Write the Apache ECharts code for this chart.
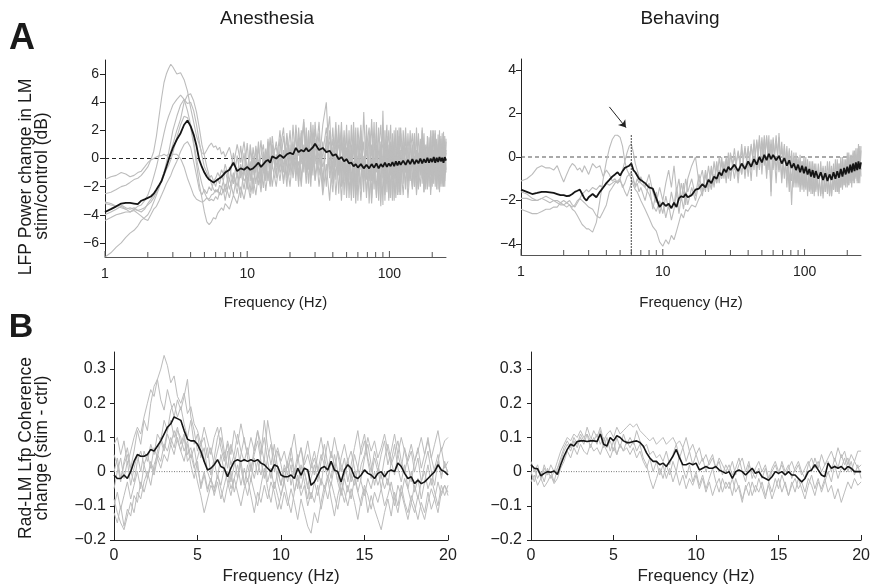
<!DOCTYPE html>
<html>
<head>
<meta charset="utf-8">
<script src="https://cdn.jsdelivr.net/npm/echarts@6/dist/echarts.min.js"></script>
<style>
  body { margin: 0; padding: 0; background: #fff; }
  #chart { width: 873px; height: 586px; }
</style>
</head>
<body>
<div id="chart"></div>
<script>
// ---- frequency grids ----
const freqLog = [
  1, 1.1, 1.2, 1.3, 1.4, 1.5, 1.6, 1.7, 1.8, 1.9, 2, 2.1, 2.2, 2.3, 2.4, 2.5, 2.6, 2.7, 2.8, 2.9, 3,
  3.2, 3.4, 3.6, 3.8, 4, 4.2, 4.4, 4.6, 4.8, 5, 5.2, 5.4, 5.6, 5.8, 6, 6.2, 6.4, 6.6, 6.8,
  7, 7.5, 8, 8.5, 9, 9.5, 10, 10.5, 11, 11.5, 12, 12.5, 13, 13.5, 14, 14.5, 15,
  16, 17, 18, 19, 20, 21, 22, 23, 24, 25, 26, 27, 28, 29, 30,
  32, 34, 36, 38, 40, 42, 44, 46, 48, 50, 52, 54, 56, 58, 60,
  63, 66, 69, 72, 75, 78, 81, 84, 87, 90, 93, 96, 99, 102, 105, 108, 111, 114, 117, 120,
  125, 130, 135, 140, 145, 150, 155, 160, 165, 170, 175, 180, 185, 190, 195, 200, 205, 210, 215, 220, 225, 230, 235, 240, 245, 250
];
const freqLin = [
  0, 0.2, 0.4, 0.6, 0.8, 1, 1.2, 1.4, 1.6, 1.8,
  2, 2.2, 2.4, 2.6, 2.8, 3, 3.2, 3.4, 3.6, 3.8,
  4, 4.2, 4.4, 4.6, 4.8, 5, 5.2, 5.4, 5.6, 5.8,
  6, 6.2, 6.4, 6.6, 6.8, 7, 7.2, 7.4, 7.6, 7.8,
  8, 8.2, 8.4, 8.6, 8.8, 9, 9.2, 9.4, 9.6, 9.8,
  10, 10.2, 10.4, 10.6, 10.8, 11, 11.2, 11.4, 11.6, 11.8,
  12, 12.2, 12.4, 12.6, 12.8, 13, 13.2, 13.4, 13.6, 13.8,
  14, 14.2, 14.4, 14.6, 14.8, 15, 15.2, 15.4, 15.6, 15.8,
  16, 16.2, 16.4, 16.6, 16.8, 17, 17.2, 17.4, 17.6, 17.8,
  18, 18.2, 18.4, 18.6, 18.8, 19, 19.2, 19.4, 19.6, 19.8,
  20
];

// ---- tick values ----
const logTicks = [1, 2, 3, 4, 5, 6, 7, 8, 9, 10, 20, 30, 40, 50, 60, 70, 80, 90, 100, 200];
const anesPowerTicks = [-6, -4, -2, 0, 2, 4, 6];
const behPowerTicks = [-4, -2, 0, 2, 4];
const cohTicks = [-0.2, -0.1, 0, 0.1, 0.2, 0.3];

// ---- A, anesthesia: power change (dB) ----
const anesPowMean = [
  -3.8, -3.6, -3.4, -3.2, -3.15, -3.15, -3.2, -3.25, -3.0, -2.9, -2.8, -2.7, -2.5, -2.2, -1.9, -1.6, -1.1, -0.6, -0.1, 0.35, 0.75,
  1.35, 1.8, 2.4, 2.7, 2.3, 1.7, 0.9, -0.1, -0.6, -1.0, -1.3, -1.5, -1.6, -1.7, -1.6, -1.5, -1.45, -1.3, -1.2,
  -1.0, -0.8, -0.3, -0.9, -0.7, -0.8, -0.6, -0.8, -0.7, -0.5, -0.3, -0.6, -0.4, -0.2, -0.1, -0.3, 0.15,
  0.0, 0.25, 0.05, 0.3, 0.4, 0.3, 0.75, 0.45, 0.6, 0.5, 0.75, 0.5, 0.65, 0.8, 1.05,
  0.6, 0.75, 0.45, 0.55, 0.2, 0.3, -0.05, 0.1, -0.2, -0.05, -0.35, -0.3, -0.55, -0.4, -0.65,
  -0.4, -0.7, -0.45, -0.7, -0.4, -0.65, -0.35, -0.7, -0.4, -0.6, -0.3, -0.6, -0.35, -0.55, -0.25, -0.55, -0.2, -0.5, -0.2, -0.45,
  -0.15, -0.45, -0.1, -0.4, -0.05, -0.4, -0.1, -0.35, 0.0, -0.35, -0.05, -0.3, 0.05, -0.3, 0.0, -0.25, 0.1, -0.3, 0.05, -0.25, 0.1, -0.2, 0.05, -0.3, 0.1, -0.15
];
const anesPow1 = [
  -2.5, -2.4, -2.2, -2.0, -1.9, -1.7, -1.5, -1.4, -1.2, -0.9, -0.6, -0.1, 0.5, 1.6, 3.0, 4.3, 5.4, 6.0, 6.4, 6.7, 6.5,
  6.0, 6.1, 5.6, 4.8, 3.6, 2.6, 1.6, 1.0, 0.4, 0.3, 0.6, 0.9, 1.1, 0.8, 0.9, 0.6, 0.8, 0.3, 0.5,
  0.1, 0.8, -0.5, 1.0, -0.3, 1.2, -0.8, 0.6, -1.2, 0.9, -0.5, 1.3, -0.9, 0.7, -0.2, 1.5, -0.6,
  1.2, -0.8, 1.6, -0.5, 2.0, -1.0, 2.4, 0.2, 1.8, -0.6, 2.2, -0.3, 2.6, 0.0, 2.1,
  -0.5, 2.4, 4.0, -0.8, 2.2, -1.5, 1.8, -2.0, 1.5, -2.3, 2.0, -1.8, 1.2, -2.6, 1.6,
  -2.2, 3.3, -1.5, 1.8, -2.8, 1.4, -1.0, 2.2, -2.5, 3.4, -1.8, 1.6, -2.2, 1.2, -1.5, 2.0, -2.0, 1.4, -1.2, 1.8,
  -1.8, 1.6, -1.0, 2.0, -2.0, 1.2, -1.4, 1.8, -0.8, 2.2, -1.6, 1.0, -2.0, 1.5, -1.2, 2.0, -1.5, 1.3, -1.8, 1.7, -0.9, 1.4, -1.6, 1.9, -1.2, 1.2
];
const anesPow2 = [
  -3.1, -3.2, -3.4, -3.5, -3.6, -3.5, -3.6, -3.7, -3.6, -3.5, -3.3, -3.1, -2.8, -2.4, -2.0, -1.5, -1.0, -0.5, 0.0, 0.5, 1.0,
  2.0, 2.8, 4.0, 4.5, 4.6, 4.1, 3.3, 2.2, 1.0, 0.2, -0.6, -1.2, -1.8, -2.2, -2.4, -2.2, -2.6, -2.0, -2.4,
  -1.8, -2.8, -1.2, -2.5, -0.8, -2.2, -0.5, -2.4, 0.2, -1.8, -0.2, -2.0, 0.5, -1.5, 0.8, -1.8, 1.0,
  -1.4, 1.4, -1.8, 0.8, -1.2, 2.4, -0.8, 1.5, -1.6, 1.0, -1.2, 2.0, -0.6, 1.6, -1.5,
  1.8, -1.5, 1.0, 3.0, -1.8, 2.0, -2.5, 1.2, -1.0, 2.4, -2.8, 1.0, -2.0, 2.2, -3.0,
  1.4, -2.4, 2.4, -3.2, 1.0, -1.8, 2.6, -2.0, 1.2, -3.3, 2.0, -2.4, 1.0, -2.8, 1.8, -1.4, 2.2, -2.6, 1.6, -1.8,
  1.2, -2.2, 1.8, -1.2, 1.0, -2.0, 2.2, -1.0, 1.4, -1.8, 0.8, -2.2, 1.6, -1.0, 2.0, -1.6, 0.6, -2.0, 1.4, -1.2, 2.0, -1.8, 1.0, -1.4, 1.6, -1.0
];
const anesPow3 = [
  -4.4, -4.2, -4.0, -3.9, -3.8, -3.8, -3.6, -3.4, -3.3, -3.0, -2.6, -2.0, -1.3, -0.6, 0.2, 1.0, 1.8, 2.5, 3.0, 3.4, 3.8,
  4.2, 4.5, 4.2, 3.4, 2.4, 1.2, 0.0, -1.0, -1.8, -2.4, -2.8, -3.0, -2.9, -3.0, -2.7, -2.9, -2.4, -2.6, -2.2,
  -3.0, -1.4, -2.6, -1.0, -2.8, -0.6, -2.2, -0.4, -2.5, 0.0, -1.9, -0.8, -2.1, 0.4, -1.6, -0.3, -2.0,
  0.3, -1.6, 0.6, -2.0, 1.0, -1.4, 0.4, -2.0, 2.0, -1.0, 1.2, -1.8, 0.8, -1.2, 2.6,
  -1.2, 1.2, -2.0, 2.0, -0.8, 2.6, -1.2, 2.0, -2.6, 0.8, -1.5, 2.4, -2.8, 0.6, -1.8,
  2.0, -1.2, 0.8, 2.2, -1.6, 2.6, -2.6, 0.6, 2.4, -1.4, 0.4, 2.4, -3.0, 0.8, -2.6, 0.4, -1.2, 2.0, -2.4, 0.6,
  -1.0, 0.8, -2.0, 0.4, 1.8, -1.4, 0.6, -2.2, 1.2, -0.6, 1.8, -1.6, 0.4, -2.0, 0.8, -0.8, 2.0, -1.2, 0.6, -2.2, 0.4, -0.6, 1.8, -2.0, 0.6, -0.8
];
const anesPow4 = [
  -1.5, -1.3, -1.2, -1.0, -1.1, -1.3, -1.2, -1.0, -0.9, -0.6, -0.3, -0.1, 0.0, 0.1, 0.2, 0.2, 0.3, 0.2, 0.3, 0.2, 0.3,
  0.3, 0.0, -0.6, -1.4, -2.0, -2.6, -2.9, -3.0, -3.1, -3.0, -2.8, -2.9, -2.6, -2.5, -2.2, -2.4, -1.9, -2.1, -1.6,
  -2.4, -0.6, -1.8, 0.2, -1.4, 0.4, -1.8, 1.0, -0.8, 0.6, -1.4, 0.2, 1.0, -1.0, 1.2, -0.8, 0.8,
  -0.6, 2.0, -1.0, 1.8, -0.2, 1.2, -1.6, 2.2, -0.4, 2.6, -0.8, 1.0, -1.4, 2.4, -0.4,
  2.6, -2.2, 1.6, -1.4, 1.4, -0.6, 2.4, -1.4, 2.0, -1.0, 1.0, -2.6, 2.0, -0.6, 2.2,
  -0.8, 1.2, -2.8, 0.8, 2.2, -2.2, 1.0, -3.0, 0.6, 1.0, -2.6, 0.2, 2.0, -1.2, 0.6, -3.0, 0.8, -0.8, 2.2, -2.6,
  2.0, -0.6, 0.8, -1.6, 0.2, 1.8, -2.2, 0.4, -1.0, 1.2, -2.4, 0.6, 1.0, -0.6, 1.6, -2.0, 0.2, 1.8, -0.8, 1.0, -1.6, 1.6, -0.4, 0.8, -2.0, 1.4
];
const anesPow5 = [
  -3.2, -3.3, -3.4, -3.3, -3.5, -3.6, -3.5, -3.7, -3.8, -3.6, -3.2, -2.9, -2.6, -2.3, -2.0, -1.6, -1.2, -0.8, -0.5, -0.1, 0.4,
  1.5, 2.4, 3.0, 2.9, 2.2, 1.0, -0.4, -1.8, -2.8, -3.8, -4.5, -4.7, -4.5, -4.2, -4.3, -3.9, -4.0, -3.5, -3.7,
  -3.2, -3.6, -2.6, -3.2, -2.0, -2.9, -1.6, -2.8, -1.4, -2.6, -1.0, -2.4, -0.6, -2.3, -0.9, -2.0, -0.4,
  -2.0, 0.2, -1.6, -0.2, -2.0, 0.4, -1.2, -0.2, -2.0, 0.6, -1.8, 0.2, -2.0, 1.0, -1.6,
  0.6, -2.6, -0.4, -3.0, 0.8, -2.6, 0.2, -3.0, 0.4, -2.8, 0.6, -3.0, -0.2, -3.2, 0.2,
  -3.0, 0.2, -2.4, -0.4, -3.2, 0.0, -2.8, -0.4, -3.4, 0.2, -2.2, -1.0, -2.8, 0.4, -3.0, -0.6, -2.8, 0.2, -2.6, -0.4,
  -2.6, 0.0, -2.8, -0.6, -2.2, 0.2, -2.6, -0.8, -2.0, 0.4, -2.4, -0.4, -2.2, 0.0, -2.6, -0.6, -1.8, 0.6, -2.2, -0.2, -2.4, 0.2, -2.0, -0.6, -1.6, 0.0
];
const anesPow6 = [
  -7.0, -6.7, -6.3, -6.0, -5.6, -5.3, -5.1, -4.8, -4.4, -4.2, -4.0, -3.6, -3.1, -2.6, -2.1, -1.5, -1.0, -0.3, 0.4, 1.2, 2.0,
  3.0, 3.8, 4.2, 3.9, 4.0, 3.4, 2.4, 1.2, 0.2, -0.6, -1.0, -1.4, -1.2, -1.6, -1.4, -1.0, -1.3, -0.8, -1.1,
  -0.4, -1.6, 0.4, -1.4, 0.9, -1.2, 1.1, -1.6, 0.8, -1.0, 1.2, -1.6, 0.4, -1.2, 1.4, -0.6, 1.6,
  -1.0, 0.6, 2.2, -1.4, 0.6, -0.4, 1.8, -1.6, 1.0, 2.8, -0.2, 1.6, -1.2, 0.4, 1.4,
  -2.0, 0.4, 2.2, -0.4, -2.4, 1.2, -0.6, 2.6, -1.6, 1.8, -0.8, -0.2, 2.6, -1.8, -0.4,
  2.4, -1.6, 1.6, -1.2, 2.8, -0.8, 1.8, -1.2, -0.2, 2.2, -3.0, 1.2, -0.4, 2.4, -1.0, 1.2, -0.6, -2.2, 0.8, 2.2,
  -0.6, 2.2, -1.6, 1.0, -0.4, -2.0, 1.6, 0.2, -1.2, 2.0, 0.0, -1.8, 1.2, -0.2, -2.2, 1.0, -0.6, 2.0, -1.4, 0.4, 1.2, -2.0, 0.2, 1.6, -0.8, 0.6
];
const anesPow7 = [
  -4.0, -3.8, -3.6, -3.4, -3.6, -3.8, -3.7, -3.9, -4.1, -4.3, -4.4, -4.0, -3.6, -3.4, -3.0, -2.6, -2.2, -1.8, -1.5, -1.2, -0.8,
  -0.2, 0.5, 1.0, 1.2, 0.8, -0.2, -1.2, -2.2, -2.6, -2.2, -2.5, -2.0, -2.3, -1.6, -2.0, -1.4, -1.8, -1.2, -1.6,
  -0.8, -2.2, -1.0, -2.0, -0.4, -1.6, -1.2, -0.2, -1.8, -0.6, 0.8, -1.2, 0.2, -1.6, 0.2, -1.4, 0.4,
  0.8, -1.0, -0.4, 1.4, -0.8, 1.0, 0.2, -1.0, 0.6, -0.2, 1.6, -0.8, 1.8, -0.6, 0.6,
  1.0, -0.6, 0.6, 1.2, -1.4, 0.0, 1.0, -0.6, 0.8, -1.4, -0.2, 0.6, -1.4, 1.0, -1.2,
  0.4, -1.0, 0.6, -1.6, 0.0, -0.8, 0.4, -1.6, 1.0, -0.4, 0.8, -1.8, 0.6, -0.6, 1.0, -1.0, 0.2, -1.4, 0.2, -0.8,
  0.6, -1.0, 0.2, -0.6, 0.8, -1.2, 0.4, -0.4, 1.0, -1.4, 0.2, 0.6, -1.0, 0.8, -0.2, -1.2, 0.6, -0.4, 1.0, -0.8, 0.0, 0.8, -1.2, 0.2, -0.2, 0.4
];

// ---- A, behaving: power change (dB) ----
const behPowMean = [
  -1.5, -1.6, -1.7, -1.65, -1.6, -1.6, -1.62, -1.65, -1.7, -1.75, -1.75, -1.8, -1.78, -1.7, -1.6, -1.55, -1.5, -1.7, -1.9, -2.0, -1.85,
  -1.7, -1.85, -1.6, -1.4, -1.2, -1.05, -0.9, -0.8, -0.7, -0.85, -0.65, -0.5, -0.45, -0.4, -0.3, -0.6, -0.7, -0.65, -1.0,
  -1.0, -1.2, -1.4, -1.45, -1.9, -2.3, -2.1, -2.25, -2.15, -2.35, -2.1, -2.3, -1.9, -1.8, -1.85, -1.7, -1.85,
  -1.75, -1.5, -1.45, -1.25, -1.4, -1.05, -1.2, -0.9, -1.0, -0.7, -0.85, -0.55, -0.7, -0.45, -0.6,
  -0.35, -0.65, -0.3, -0.55, -0.2, -0.45, -0.1, -0.35, 0.0, -0.25, 0.1, -0.15, 0.15, -0.1, 0.1,
  -0.15, 0.05, -0.3, -0.05, -0.4, -0.15, -0.5, -0.3, -0.6, -0.35, -0.7, -0.4, -0.75, -0.45, -0.8, -0.55, -0.9, -0.6, -0.95, -0.65,
  -1.0, -0.7, -1.05, -0.75, -1.1, -0.8, -1.05, -0.7, -1.0, -0.65, -0.95, -0.55, -0.9, -0.5, -0.8, -0.45, -0.75, -0.35, -0.7, -0.3, -0.65, -0.25, -0.6, -0.2, -0.55, -0.25
];
const behPow1 = [
  -1.1, -1.0, -0.8, -0.5, -0.4, -0.5, -0.5, -0.6, -0.4, -0.8, -1.15, -0.8, -0.5, -0.3, -0.4, -0.6, -0.5, -0.7, -0.4, -0.6, -0.8,
  -0.3, -0.5, -0.4, -0.9, -0.6, -0.8, -1.1, -1.0, -1.2, -1.0, -1.4, -1.2, -0.9, -0.8, -0.7, -1.0, -1.4, -1.2, -1.6,
  -1.4, -2.0, -1.2, -2.4, -1.6, -2.6, -2.0, -2.8, -2.2, -2.9, -2.4, -1.6, -2.6, -1.8, -2.4, -1.6, -2.2,
  -1.4, -2.0, -1.2, -1.8, -0.8, -1.6, -0.6, -1.4, -0.4, -1.2, -0.2, -1.0, 0.0, -0.9, 0.2,
  -1.0, 0.3, -0.8, 0.5, -0.9, 0.6, -0.6, 0.8, -0.6, 0.9, -0.4, 1.0, -0.6, 0.8, -0.5,
  1.0, -0.7, 0.7, -1.0, 0.5, -1.2, 0.3, -1.4, 0.2, -1.2, 0.1, -1.5, 0.0, -1.4, -0.1, -1.6, -0.2, -1.7, -0.3, -1.6,
  -0.3, -1.8, -0.4, -1.6, -0.2, -1.7, -0.5, -1.5, -0.1, -1.6, -0.3, -1.4, 0.0, -1.3, -0.1, -1.4, 0.2, -1.2, 0.1, -1.1, 0.3, -1.0, 0.4, -1.2, 0.5, -0.9
];
const behPow2 = [
  -1.6, -1.7, -1.9, -2.0, -1.9, -2.0, -2.1, -2.0, -2.0, -2.1, -2.2, -2.1, -2.0, -2.2, -2.3, -2.1, -1.9, -1.7, -1.6, -1.5, -1.6,
  -1.4, -1.5, -1.3, -1.4, -1.2, -1.3, -1.2, -1.1, -1.2, -1.1, -1.3, -1.6, -1.8, -1.5, -1.2, -1.1, -1.3, -1.0, -1.2,
  -0.9, -1.4, -0.8, -1.6, -2.1, -1.4, -2.0, -1.2, -0.6, -1.4, -0.4, -1.6, -1.0, -2.0, -1.2, -2.2, -1.0,
  -0.4, 0.0, -1.2, -0.6, -1.6, -0.4, -1.4, -0.2, -1.2, 0.0, -1.0, -0.2, -1.2, 0.2, -1.1,
  0.4, -1.2, 0.6, -1.0, 0.5, -1.1, 0.8, -0.9, 1.0, -0.8, 0.8, -1.0, 1.0, -1.6, 0.9,
  -1.2, 1.1, -1.0, 0.6, -1.4, 0.4, -2.2, 0.2, -1.4, 0.0, -1.6, -0.2, -1.6, 0.0, -1.8, -0.2, -1.7, -0.2, -1.8, -0.3,
  -1.8, -0.2, -1.9, -0.4, -1.7, -0.2, -1.8, -0.3, -1.6, -0.1, -1.7, 0.0, -1.5, -0.1, -1.4, 0.2, -1.3, 0.1, -1.4, 0.3, -1.2, 0.4, -1.1, 0.6, -1.2, 0.5
];
const behPow3 = [
  -1.9, -1.9, -2.0, -2.0, -1.9, -1.8, -1.9, -2.0, -2.1, -2.2, -2.2, -2.3, -2.2, -2.3, -2.2, -2.0, -1.9, -2.0, -2.1, -2.2, -2.3,
  -2.4, -2.7, -2.8, -2.5, -2.2, -1.6, -1.4, -1.2, -1.1, -1.0, -0.6, -0.2, 0.2, 0.5, 0.6, 0.2, -0.3, -0.6, -0.9,
  -1.2, -1.4, -1.7, -2.2, -2.5, -2.0, -2.6, -1.8, -2.4, -1.6, -2.2, -1.4, -2.0, -1.2, -1.8, -1.0, -1.6,
  -1.0, -1.8, -0.8, -1.6, -0.6, -1.4, -0.4, -1.2, -0.2, -1.0, 0.0, -0.8, -0.1, -1.0, 0.1,
  -0.6, 0.2, -0.8, 0.4, -0.5, 0.5, -0.4, 0.7, -0.5, 0.6, -0.3, 0.9, -0.4, 0.6, -0.6,
  0.7, -0.6, 0.4, -0.8, 0.2, -1.6, 0.1, -1.2, -0.1, -1.4, -0.2, -1.3, -0.3, -1.5, -0.4, -1.4, -0.5, -1.6, -0.4, -1.5,
  -0.6, -1.7, -0.5, -1.6, -0.7, -1.8, -0.4, -1.5, -0.6, -1.6, -0.3, -1.4, -0.5, -1.3, -0.2, -1.2, -0.4, -1.1, 0.0, -1.2, -0.2, -0.9, 0.1, -1.0, -0.1, -0.6
];
const behPow4 = [
  -2.4, -2.5, -2.6, -2.6, -2.5, -2.4, -2.4, -2.3, -2.3, -2.1, -2.0, -2.1, -2.2, -2.4, -2.5, -2.7, -2.9, -3.1, -3.2, -3.3, -3.3,
  -3.45, -3.0, -2.0, -1.0, -0.2, 0.4, 0.8, 1.0, 1.0, 0.9, 0.5, -0.2, -0.6, -0.8, -1.0, -1.3, -1.5, -1.6, -1.8,
  -2.0, -2.4, -2.8, -3.2, -3.4, -3.9, -4.1, -3.8, -4.0, -3.6, -3.8, -3.4, -3.0, -2.6, -2.8, -2.4, -2.5,
  -2.2, -2.3, -1.9, -1.6, -1.4, -1.0, -1.5, -0.8, -1.2, -0.6, -1.0, -0.4, -0.8, -0.2, -0.9,
  0.0, -0.9, 0.3, -0.7, 0.4, -0.6, 0.6, -0.5, 0.8, -0.4, 1.0, -0.8, 0.7, -1.8, 0.8,
  -0.6, 0.9, -1.2, 0.5, -0.9, 0.3, -1.1, 0.0, -1.2, -0.1, -1.3, -0.2, -1.4, -0.3, -1.6, -0.4, -1.5, -0.5, -1.6, -0.6,
  -1.5, -0.5, -1.7, -0.6, -1.6, -0.4, -1.8, -0.5, -1.5, -0.3, -1.6, -0.2, -1.4, -0.4, -1.2, -0.1, -1.3, 0.0, -1.1, 0.2, -1.0, 0.1, -1.2, 0.4, -0.8, 0.3
];

// ---- B, anesthesia: coherence change ----
const anesCohMean = [
  -0.01, -0.02, -0.02, -0.01, -0.02, 0.0, 0.03, 0.05, 0.045, 0.045,
  0.05, 0.065, 0.06, 0.075, 0.09, 0.11, 0.13, 0.14, 0.16, 0.155,
  0.15, 0.12, 0.095, 0.09, 0.09, 0.08, 0.06, 0.03, 0.005, 0.01,
  0.02, 0.035, 0.015, 0.01, -0.015, 0.01, 0.03, 0.035, 0.03, 0.035,
  0.03, 0.035, 0.03, 0.035, 0.025, 0.02, 0.01, 0.0, 0.02, 0.015,
  -0.01, -0.015, -0.015, -0.01, -0.02, 0.01, -0.01, 0.01, 0.005, -0.04,
  -0.03, -0.01, 0.01, 0.015, 0.005, 0.03, 0.005, 0.0, -0.03, 0.005,
  0.02, 0.01, -0.015, -0.02, -0.01, 0.005, -0.005, -0.01, -0.02, -0.005,
  0.0, -0.015, 0.0, 0.005, 0.0, 0.025, 0.015, -0.005, -0.02, -0.015,
  -0.035, -0.025, -0.035, -0.03, -0.02, -0.01, 0.0, 0.02, 0.005, 0.0,
  -0.01
];
const anesCoh1 = [
  0.08, 0.1, 0.05, 0.09, 0.02, 0.06, 0.1, 0.13, 0.11, 0.16,
  0.2, 0.24, 0.22, 0.27, 0.3, 0.34, 0.31, 0.26, 0.28, 0.22,
  0.2, 0.23, 0.17, 0.19, 0.14, 0.12, 0.08, 0.1, 0.04, 0.07,
  0.02, 0.06, 0.1, 0.04, 0.08, 0.02, 0.05, 0.11, 0.06, 0.03,
  0.07, 0.01, 0.05, 0.09, 0.03, -0.02, 0.04, 0.08, 0.0, 0.06,
  0.02, -0.03, 0.03, 0.07, 0.0, 0.05, -0.02, 0.04, 0.09, 0.03,
  -0.01, 0.05, 0.1, 0.04, 0.0, 0.06, 0.02, -0.03, 0.04, 0.08,
  0.03, -0.02, 0.05, 0.01, 0.07, 0.11, 0.04, 0.0, 0.06, 0.02,
  -0.02, 0.04, 0.08, 0.03, -0.01, 0.05, 0.1, 0.06, 0.02, -0.03,
  0.03, 0.07, 0.01, 0.05, 0.1, 0.04, 0.08, 0.12, 0.06, 0.09,
  0.1
];
const anesCoh2 = [
  0.05, 0.02, -0.03, 0.03, 0.07, 0.01, 0.06, 0.12, 0.08, 0.15,
  0.12, 0.2, 0.25, 0.27, 0.21, 0.18, 0.24, 0.2, 0.16, 0.21,
  0.18, 0.22, 0.27, 0.16, 0.12, 0.06, 0.09, 0.03, 0.07, -0.01,
  0.04, 0.1, 0.13, 0.06, 0.01, 0.08, 0.04, -0.02, 0.05, 0.1,
  0.04, 0.0, 0.07, 0.12, 0.05, 0.15, 0.07, 0.02, 0.08, 0.01,
  -0.04, 0.02, -0.01, 0.06, 0.11, 0.03, 0.07, 0.0, -0.05, 0.02,
  0.06, 0.01, -0.04, 0.03, 0.09, 0.04, 0.1, 0.05, 0.0, 0.04,
  -0.03, 0.02, 0.07, 0.12, 0.05, 0.09, 0.03, -0.02, 0.04, 0.0,
  0.05, 0.09, 0.02, 0.06, 0.11, 0.05, 0.01, 0.07, 0.03, 0.06,
  0.0, 0.04, -0.03, 0.02, 0.06, 0.0, -0.04, 0.03, 0.07, 0.01,
  0.03
];
const anesCoh3 = [
  -0.05, 0.0, 0.04, -0.02, 0.03, -0.04, 0.01, 0.05, 0.0, 0.06,
  0.03, 0.08, 0.05, 0.11, 0.09, 0.15, 0.12, 0.18, 0.2, 0.16,
  0.19, 0.14, 0.1, 0.15, 0.08, 0.11, 0.04, 0.07, 0.0, -0.03,
  0.03, -0.02, 0.05, 0.0, 0.06, -0.03, 0.02, 0.07, 0.01, -0.04,
  0.02, -0.03, 0.04, -0.01, 0.05, 0.1, 0.03, -0.02, 0.04, -0.03,
  -0.07, -0.02, 0.03, -0.04, 0.01, -0.05, 0.02, -0.03, -0.08, -0.02,
  0.02, -0.03, 0.03, 0.08, 0.02, -0.02, 0.05, 0.0, -0.06, -0.01,
  0.04, -0.03, 0.0, -0.06, -0.02, 0.04, 0.08, 0.02, -0.04, 0.01,
  -0.05, 0.0, -0.04, 0.03, 0.08, 0.01, -0.03, 0.02, -0.05, 0.0,
  -0.06, -0.02, -0.08, -0.03, 0.02, -0.04, 0.01, 0.05, -0.02, 0.03,
  -0.01
];
const anesCoh4 = [
  -0.12, -0.15, -0.1, -0.16, -0.11, -0.13, -0.07, -0.09, -0.03, -0.06,
  -0.02, 0.03, 0.0, 0.06, 0.1, 0.07, 0.12, 0.15, 0.1, 0.13,
  0.08, 0.11, 0.05, 0.07, 0.02, -0.03, -0.07, -0.12, -0.08, -0.04,
  -0.06, -0.01, -0.05, -0.09, -0.04, 0.0, -0.06, -0.02, 0.03, -0.03,
  -0.07, -0.02, -0.06, -0.1, -0.04, 0.01, -0.05, -0.09, -0.03, -0.07,
  -0.11, -0.06, -0.1, -0.05, -0.09, -0.14, -0.08, -0.12, -0.16, -0.18,
  -0.12, -0.15, -0.09, -0.04, -0.08, -0.03, -0.07, -0.11, -0.05, -0.09,
  -0.04, -0.08, -0.02, -0.06, -0.1, -0.05, -0.12, -0.07, -0.11, -0.14,
  -0.17, -0.12, -0.08, -0.13, -0.06, -0.1, -0.04, -0.09, -0.12, -0.07,
  -0.1, -0.14, -0.09, -0.12, -0.06, -0.11, -0.08, -0.03, -0.07, -0.04,
  -0.06
];
const anesCoh5 = [
  -0.08, -0.12, -0.15, -0.17, -0.13, -0.09, -0.12, -0.06, -0.08, -0.03,
  0.0, -0.04, 0.02, 0.05, 0.03, 0.08, 0.06, 0.1, 0.07, 0.12,
  0.1, 0.06, 0.09, 0.04, 0.07, 0.01, -0.04, 0.0, -0.05, -0.02,
  -0.07, -0.03, -0.08, -0.04, 0.0, -0.05, -0.02, -0.06, -0.1, -0.05,
  -0.02, -0.07, -0.12, -0.06, -0.09, -0.04, -0.08, -0.03, -0.06, -0.11,
  -0.07, -0.03, -0.08, -0.12, -0.06, -0.02, -0.07, -0.04, -0.1, -0.06,
  -0.09, -0.04, -0.11, -0.06, -0.02, -0.08, -0.13, -0.07, -0.03, -0.06,
  -0.1, -0.05, -0.09, -0.14, -0.08, -0.04, -0.07, -0.11, -0.06, -0.09,
  -0.05, -0.1, -0.07, -0.03, -0.08, -0.12, -0.06, -0.1, -0.14, -0.09,
  -0.12, -0.07, -0.11, -0.14, -0.09, -0.05, -0.08, -0.12, -0.06, -0.04,
  -0.07
];
const anesCoh6 = [
  0.0, 0.04, -0.02, 0.02, 0.05, 0.0, -0.03, 0.03, 0.06, 0.02,
  0.05, 0.01, 0.07, 0.04, 0.09, 0.06, 0.11, 0.08, 0.12, 0.09,
  0.06, 0.1, 0.03, 0.05, 0.01, 0.04, 0.08, 0.13, 0.09, 0.05,
  0.1, 0.13, 0.07, 0.03, 0.09, 0.05, 0.12, 0.08, 0.14, 0.09,
  0.05, 0.1, 0.06, 0.12, 0.08, 0.03, 0.15, 0.09, 0.04, 0.07,
  0.03, 0.06, 0.01, 0.04, -0.01, 0.03, 0.07, 0.02, 0.05, 0.01,
  0.04, 0.0, 0.05, 0.02, -0.02, 0.03, 0.0, 0.06, 0.02, -0.01,
  0.03, 0.06, 0.01, -0.03, 0.02, 0.05, 0.1, 0.06, 0.09, 0.04,
  0.07, 0.11, 0.06, 0.02, 0.05, 0.09, 0.03, 0.0, 0.04, 0.08,
  0.03, 0.06, 0.1, 0.05, 0.09, 0.04, 0.0, 0.03, -0.01, 0.02,
  0.0
];
const anesCoh7 = [
  -0.1, -0.06, -0.11, -0.07, -0.03, -0.08, -0.04, 0.0, -0.05, 0.02,
  -0.02, 0.02, -0.01, 0.04, 0.01, 0.05, 0.03, 0.08, 0.05, 0.1,
  0.06, 0.03, 0.08, 0.02, -0.02, 0.03, -0.05, -0.01, -0.06, -0.02,
  -0.05, -0.01, -0.04, 0.01, -0.03, -0.07, -0.02, 0.02, -0.04, 0.01,
  -0.03, 0.02, -0.02, 0.03, -0.01, 0.04, -0.03, 0.01, -0.05, 0.0,
  -0.04, 0.01, -0.03, 0.02, -0.06, -0.01, -0.05, 0.0, -0.04, -0.08,
  -0.03, -0.07, -0.02, -0.05, -0.01, -0.04, 0.02, -0.03, -0.07, -0.02,
  -0.06, -0.01, -0.04, 0.01, -0.03, -0.07, -0.02, -0.05, 0.0, -0.04,
  -0.01, -0.05, -0.02, -0.06, -0.1, -0.04, -0.07, -0.02, -0.05, -0.09,
  -0.04, -0.08, -0.03, 0.0, -0.05, -0.02, -0.06, -0.1, -0.04, -0.07,
  -0.04
];

// ---- B, behaving: coherence change ----
const behCohMean = [
  0.02, 0.01, 0.008, -0.012, -0.005, 0.0, -0.002, 0.002, -0.008, 0.02,
  0.045, 0.065, 0.08, 0.075, 0.088, 0.09, 0.09, 0.088, 0.09, 0.09,
  0.088, 0.11, 0.08, 0.075, 0.1, 0.09, 0.105, 0.1, 0.09, 0.085,
  0.085, 0.088, 0.09, 0.085, 0.075, 0.055, 0.04, 0.03, 0.03, 0.02,
  0.025, 0.015, 0.03, 0.045, 0.065, 0.04, 0.02, 0.02, 0.025, 0.02,
  0.025, 0.005, 0.01, 0.015, 0.01, 0.01, 0.015, 0.005, 0.0, -0.005,
  0.0, -0.02, 0.0, 0.005, 0.0, -0.01, 0.0, 0.01, -0.005, 0.0,
  -0.015, -0.02, -0.025, -0.015, 0.0, -0.005, 0.0, -0.01, 0.0, -0.01,
  -0.01, -0.02, -0.03, -0.02, 0.0, 0.005, 0.02, 0.005, -0.01, -0.015,
  0.025, 0.01, 0.015, 0.01, 0.015, 0.005, 0.015, 0.01, 0.0, 0.0,
  0.0
];
const behCoh1 = [
  0.03, 0.0, 0.02, -0.02, 0.01, -0.01, 0.02, 0.0, 0.03, 0.06,
  0.08, 0.1, 0.09, 0.11, 0.1, 0.12, 0.1, 0.11, 0.09, 0.12,
  0.1, 0.13, 0.09, 0.11, 0.12, 0.1, 0.13, 0.11, 0.12, 0.13,
  0.14, 0.13, 0.14, 0.12, 0.11, 0.1, 0.09, 0.1, 0.08, 0.09,
  0.1, 0.08, 0.09, 0.1, 0.08, 0.09, 0.07, 0.1, 0.06, 0.08,
  0.05, 0.07, 0.03, 0.05, 0.02, 0.04, 0.01, 0.03, -0.01, 0.02,
  0.0, 0.03, -0.01, 0.02, 0.04, 0.0, 0.03, -0.02, 0.01, 0.03,
  0.0, 0.02, -0.02, 0.01, 0.03, 0.0, 0.02, -0.01, 0.01, 0.03,
  0.0, 0.02, -0.01, 0.01, 0.03, 0.0, 0.04, 0.01, 0.05, 0.02,
  0.04, 0.06, 0.03, 0.07, 0.04, 0.06, 0.02, 0.05, 0.03, 0.06,
  0.06
];
const behCoh2 = [
  0.0, -0.03, 0.01, -0.02, 0.02, -0.01, 0.0, -0.03, 0.01, 0.03,
  0.06, 0.08, 0.06, 0.09, 0.07, 0.1, 0.08, 0.11, 0.07, 0.1,
  0.08, 0.12, 0.07, 0.1, 0.06, 0.09, 0.05, 0.08, 0.06, 0.09,
  0.07, 0.09, 0.06, 0.08, 0.04, 0.02, -0.02, -0.05, -0.02, 0.01,
  -0.02, 0.02, -0.01, 0.03, 0.0, 0.05, 0.01, -0.02, 0.02, -0.03,
  0.0, -0.04, -0.01, -0.05, -0.02, 0.01, -0.03, -0.06, -0.02, -0.05,
  -0.03, -0.07, -0.02, -0.05, -0.09, -0.04, -0.07, -0.03, -0.06, -0.02,
  -0.05, -0.08, -0.03, -0.06, -0.02, -0.05, -0.01, -0.04, -0.07, -0.03,
  -0.06, -0.02, -0.05, -0.08, -0.04, -0.01, -0.05, -0.02, -0.06, -0.03,
  0.0, -0.03, 0.02, -0.02, 0.01, 0.04, 0.0, 0.03, -0.01, 0.02,
  -0.02
];
const behCoh3 = [
  -0.03, -0.01, -0.04, -0.02, -0.045, -0.03, -0.01, -0.035, -0.02, 0.01,
  0.03, 0.06, 0.04, 0.07, 0.05, 0.08, 0.06, 0.05, 0.08, 0.06,
  0.07, 0.05, 0.08, 0.06, 0.04, 0.07, 0.05, 0.08, 0.06, 0.07,
  0.05, 0.07, 0.04, 0.06, 0.03, 0.01, 0.04, 0.0, 0.03, -0.01,
  0.02, -0.02, 0.01, -0.03, 0.0, -0.04, -0.01, -0.05, -0.02, -0.04,
  -0.01, -0.05, -0.02, -0.06, -0.03, -0.07, -0.04, -0.02, -0.06, -0.03,
  -0.05, -0.02, -0.06, -0.04, -0.08, -0.05, -0.03, -0.07, -0.04, -0.06,
  -0.03, -0.07, -0.04, -0.08, -0.05, -0.02, -0.06, -0.03, -0.07, -0.04,
  -0.02, -0.05, -0.03, -0.06, -0.02, -0.04, -0.07, -0.03, -0.05, -0.02,
  -0.06, -0.04, -0.08, -0.05, -0.09, -0.06, -0.03, -0.05, -0.02, -0.04,
  -0.03
];
const behCoh4 = [
  0.02, 0.01, -0.02, 0.0, -0.03, 0.01, -0.02, 0.0, 0.01, 0.04,
  0.07, 0.09, 0.07, 0.1, 0.08, 0.11, 0.09, 0.13, 0.1, 0.09,
  0.11, 0.08, 0.1, 0.07, 0.09, 0.06, 0.1, 0.07, 0.11, 0.08,
  0.1, 0.08, 0.12, 0.09, 0.07, 0.08, 0.05, 0.06, 0.04, 0.05,
  0.03, 0.06, 0.02, 0.05, 0.08, 0.04, 0.07, 0.03, 0.06, 0.02,
  0.05, 0.02, 0.04, 0.0, 0.03, 0.05, 0.01, 0.04, 0.02, 0.0,
  0.02, -0.01, 0.01, 0.04, 0.0, -0.03, 0.02, 0.0, -0.02, 0.01,
  -0.02, 0.01, -0.03, 0.0, 0.02, -0.01, 0.03, 0.0, 0.02, -0.02,
  0.01, 0.03, 0.0, -0.02, 0.02, 0.04, 0.01, 0.03, 0.0, 0.02,
  0.03, 0.0, 0.04, 0.01, 0.05, 0.02, 0.04, 0.0, 0.03, 0.01,
  0.02
];

// ---- styling ----
const FONT = '"Liberation Sans", Arial, Helvetica, sans-serif';
const GRAY = '#bcbcbc';
const BLACK = '#151515';
const TXT = '#222';

function pairs(xs, ys) {
  return ys.map((y, i) => [xs[i], y]);
}
function curve(idx, xs, ys, color, width, z) {
  return {
    type: 'line', xAxisIndex: idx, yAxisIndex: idx,
    data: pairs(xs, ys), symbol: 'none', showSymbol: false,
    lineStyle: { color: color, width: width }, itemStyle: { color: color },
    z: z, silent: true, animation: false
  };
}
function refLine(idx, data, color, dash, width) {
  return {
    type: 'line', xAxisIndex: idx, yAxisIndex: idx, data: data,
    symbol: 'none', showSymbol: false, silent: true, animation: false, z: 1,
    lineStyle: { color: color, width: width, type: dash }
  };
}
function minus(v) {
  return String(v).replace('-', '\u2212');
}
function isDecade(v) {
  const l = Math.log10(v);
  return Math.abs(l - Math.round(l)) < 1e-6;
}
// inside ticks on the log axes, placed through the axis scale
function logTickSeries(idx, yMin) {
  return {
    type: 'custom', xAxisIndex: idx, yAxisIndex: idx, silent: true, clip: false, z: 5,
    data: logTicks.map(v => [v, yMin]),
    renderItem: function (params, api) {
      const p = api.coord([api.value(0), api.value(1)]);
      const len = isDecade(api.value(0)) ? 6 : 5;
      return {
        type: 'line',
        shape: { x1: p[0], y1: p[1], x2: p[0], y2: p[1] - len },
        style: { stroke: '#555', lineWidth: 1 }
      };
    }
  };
}
function logX(idx, gap) {
  return {
    type: 'log', logBase: 10, gridIndex: idx, min: 1, max: 250,
    name: 'Frequency (Hz)', nameLocation: 'middle', nameGap: gap,
    nameTextStyle: { fontSize: 15, color: TXT, fontFamily: FONT },
    axisLine: { onZero: false, lineStyle: { color: '#555', width: 1 } },
    axisTick: { show: false }, minorTick: { show: false },
    axisLabel: { fontSize: 14, color: TXT, fontFamily: FONT, margin: 10,
      formatter: v => (isDecade(v) ? String(Math.round(v)) : '') },
    splitLine: { show: false }
  };
}
function linX(idx) {
  return {
    type: 'value', gridIndex: idx, min: 0, max: 20, interval: 5,
    name: 'Frequency (Hz)', nameLocation: 'middle', nameGap: 28,
    nameTextStyle: { fontSize: 17, color: TXT, fontFamily: FONT },
    axisLine: { onZero: false, lineStyle: { color: '#222', width: 1 } },
    axisTick: { inside: true, length: 5, lineStyle: { color: '#222' } },
    axisLabel: { fontSize: 16, color: TXT, fontFamily: FONT, margin: 8 },
    splitLine: { show: false }
  };
}
function valY(idx, min, max, ticks, fontSize, margin, tickLen) {
  return {
    type: 'value', gridIndex: idx, min: min, max: max,
    axisLine: { show: true, onZero: false, lineStyle: { color: '#222', width: 1 } },
    axisTick: { show: true, length: tickLen, customValues: ticks, lineStyle: { color: '#222' } },
    axisLabel: { fontSize: fontSize, color: TXT, fontFamily: FONT, margin: margin,
      customValues: ticks, formatter: minus },
    splitLine: { show: false }
  };
}

const series = [];
// panel 0: anesthesia power
series.push(refLine(0, [[1, 0], [250, 0]], '#222', [4, 3], 1.2));
[anesPow1, anesPow2, anesPow3, anesPow4, anesPow5, anesPow6, anesPow7].forEach(ys => {
  series.push(curve(0, freqLog, ys, GRAY, 1.1, 2));
});
series.push(curve(0, freqLog, anesPowMean, BLACK, 1.8, 3));
series.push(logTickSeries(0, -7));

// panel 1: behaving power
series.push(refLine(1, [[1, 0], [250, 0]], '#555', [4, 3], 1.2));
[behPow1, behPow2, behPow3, behPow4].forEach(ys => {
  series.push(curve(1, freqLog, ys, GRAY, 1.1, 2));
});
series.push(curve(1, freqLog, behPowMean, BLACK, 1.8, 3));
const vline = refLine(1, [[6, 1.0], [6, -4.5]], '#333', [1.5, 1.5], 1.2);
vline.z = 4;
vline.markLine = {
  silent: true, symbol: ['none', 'arrow'], symbolSize: 7,
  label: { show: false },
  lineStyle: { color: '#222', width: 1, type: 'solid' },
  data: [[{ coord: [4.2, 2.3] }, { coord: [5.5, 1.35] }]]
};
series.push(vline);
series.push(logTickSeries(1, -4.5));

// panel 2: anesthesia coherence
series.push(refLine(2, [[0, 0], [20, 0]], '#777', [1, 1.5], 1));
[anesCoh1, anesCoh2, anesCoh3, anesCoh4, anesCoh5, anesCoh6, anesCoh7].forEach(ys => {
  series.push(curve(2, freqLin, ys, GRAY, 1, 2));
});
series.push(curve(2, freqLin, anesCohMean, BLACK, 1.6, 3));

// panel 3: behaving coherence
series.push(refLine(3, [[0, 0], [20, 0]], '#777', [1, 1.5], 1));
[behCoh1, behCoh2, behCoh3, behCoh4].forEach(ys => {
  series.push(curve(3, freqLin, ys, GRAY, 1, 2));
});
series.push(curve(3, freqLin, behCohMean, BLACK, 1.6, 3));

function label(x, y, text, size, weight, rot) {
  return {
    type: 'text', x: x, y: y, rotation: rot || 0, silent: true,
    style: { text: text, fontSize: size, fontWeight: weight || 'normal', fontFamily: FONT,
      fill: '#1a1a1a', align: 'center', verticalAlign: 'middle' }
  };
}

const chart = echarts.init(document.getElementById('chart'), null, { renderer: 'canvas' });
chart.setOption({
  animation: false,
  backgroundColor: '#fff',
  grid: [
    { left: 105, top: 60, width: 341, height: 197 },
    { left: 521, top: 59, width: 340, height: 196 },
    { left: 114, top: 352, width: 334, height: 188 },
    { left: 531, top: 352, width: 332, height: 188 }
  ],
  xAxis: [logX(0, 38), logX(1, 40), linX(2), linX(3)],
  yAxis: [
    valY(0, -7, 7, anesPowerTicks, 14, 6, 5),
    valY(1, -4.5, 4.5, behPowerTicks, 14, 5, 5),
    valY(2, -0.2, 0.35, cohTicks, 16, 8, 4),
    valY(3, -0.2, 0.35, cohTicks, 16, 9, 4)
  ],
  graphic: [
    label(267, 19, 'Anesthesia', 19),
    label(680, 19, 'Behaving', 19),
    label(22, 39, 'A', 36, 'bold'),
    label(21, 328, 'B', 34, 'bold'),
    label(26, 177, 'LFP Power change in LM', 17.5, 'normal', Math.PI / 2),
    label(42, 176, 'stim/control (dB)', 17.5, 'normal', Math.PI / 2),
    label(26, 448, 'Rad-LM Lfp Coherence', 17.5, 'normal', Math.PI / 2),
    label(42, 448, 'change (stim - ctrl)', 17.5, 'normal', Math.PI / 2)
  ],
  series: series
});
</script>
</body>
</html>
